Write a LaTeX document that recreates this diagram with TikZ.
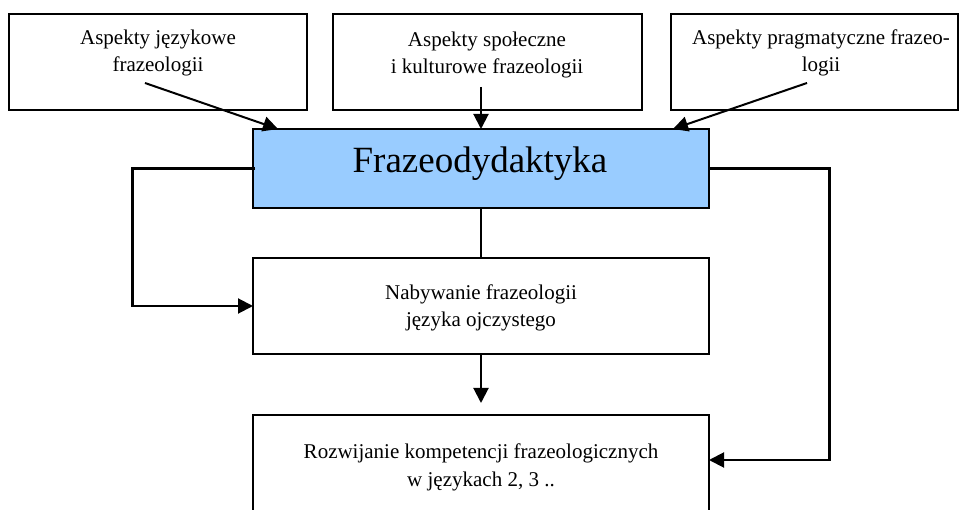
\documentclass[tikz,border=0pt]{standalone}
\usepackage{fontspec}
\setmainfont{Liberation Serif}
\usetikzlibrary{arrows.meta}
\definecolor{boxblue}{HTML}{99CCFF}
\tikzset{
  box/.style={draw=black, line width=2pt, fill=white, inner sep=0pt, outer sep=0pt, minimum height=96pt},
  lbl/.style={anchor=base, inner sep=0pt, font=\fontsize{21}{26}\selectfont},
  conn/.style={line width=2pt, -{Triangle[length=15pt,width=15pt]}},
  plain/.style={line width=2.5pt},
  elbow/.style={line width=3pt, line cap=rect},
}
\begin{document}
\begin{tikzpicture}[x=1pt,y=-1pt]
\useasboundingbox (0,0) rectangle (959,510);
\clip (0,0) rectangle (959,510);
\fill[white] (0,0) rectangle (959,510);
% boxes
\node[box, minimum width=298pt] (tl) at (158,62) {};
\node[box, minimum width=309pt] (tm) at (487.5,62) {};
\node[box, minimum width=287pt] (tr) at (814.5,62) {};
\node[box, fill=boxblue, minimum width=456pt, minimum height=79pt] (fr) at (481,168.5) {};
\node[box, minimum width=456pt] (nb) at (481,306) {};
\node[box, minimum width=456pt, minimum height=110pt] (rz) at (481,470) {};
% texts
\node[lbl] (tl1) at (158,45) {Aspekty językowe};
\node[lbl] (tl2) at (158,72) {frazeologii};
\node[lbl] (tm1) at (487,47) {Aspekty społeczne};
\node[lbl] (tm2) at (487,74) {i kulturowe frazeologii};
\node[lbl] (tr1) at (821,45) {Aspekty pragmatyczne frazeo-};
\node[lbl] (tr2) at (821,72) {logii};
\node[anchor=base, inner sep=0pt, font=\fontsize{37}{44}\selectfont] (frt) at (480,173) {Frazeodydaktyka};
\node[lbl] (nb1) at (481,300) {Nabywanie frazeologii};
\node[lbl] (nb2) at (481,327) {języka ojczystego};
\node[lbl] (rz1) at (481,459) {Rozwijanie kompetencji frazeologicznych};
\node[lbl] (rz2) at (481,486) {w językach 2, 3 ..};
% connector start points
\coordinate (a1) at (145,83);
\coordinate (a2) at (481,87);
\coordinate (a3) at (807,83);
\coordinate (cl) at (132,306);
\coordinate (cr) at (829,460);
% connectors
\draw[conn] (a1) -- ([xshift=25pt]fr.north west);
\draw[conn] (a2) -- (fr.north);
\draw[conn] (a3) -- ([xshift=-36pt]fr.north east);
\draw[plain] (fr.south) -- (nb.north);
\draw[elbow] (fr.west) -| (cl);
\draw[conn] (cl) -- (nb.west);
\draw[elbow] (fr.east) -| (cr);
\draw[conn] (cr) -- (cr -| rz.east);
\draw[conn, shorten >=12pt] (nb.south) -- (rz.north);
\end{tikzpicture}
\end{document}
